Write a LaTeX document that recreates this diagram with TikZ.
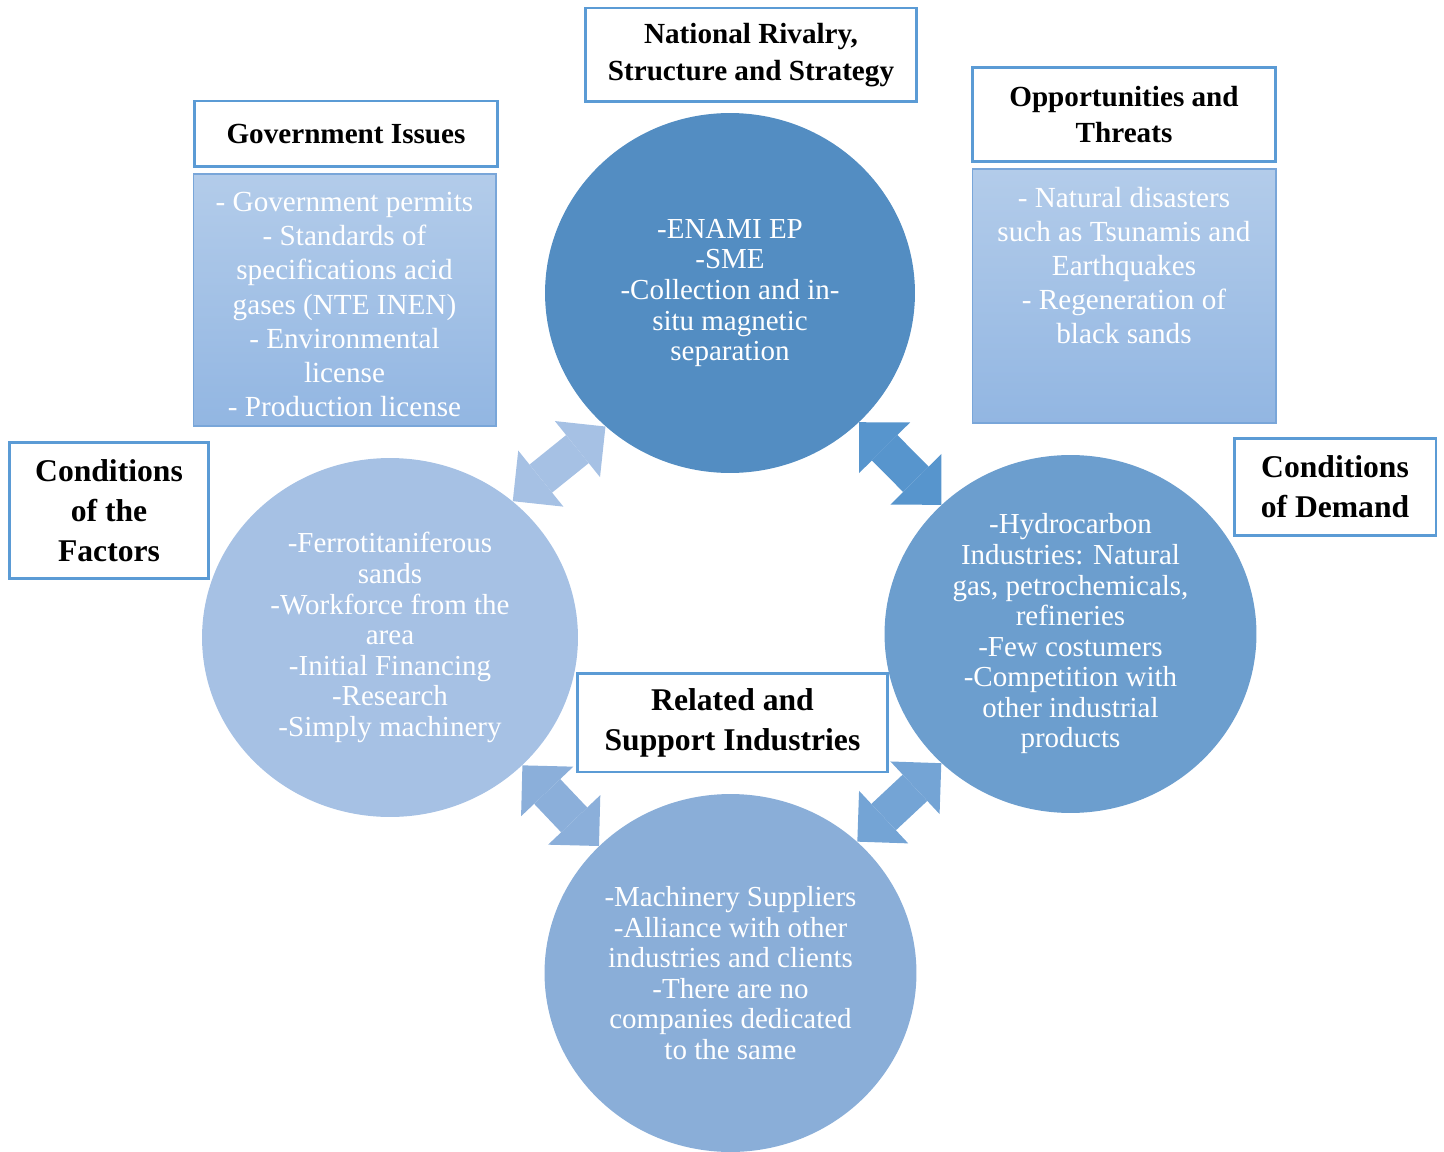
\documentclass[tikz,border=0pt]{standalone}
\usepackage{fontspec}
\setmainfont{Liberation Serif}
\usetikzlibrary{arrows.meta,shapes.geometric}
\definecolor{rimblue}{HTML}{5B9BD5}
\definecolor{listrim}{HTML}{79A6D9}
\definecolor{listtop}{HTML}{B3CCEA}
\definecolor{listbot}{HTML}{92B6E2}
\definecolor{rivalblue}{HTML}{538DC2}
\definecolor{demandblue}{HTML}{6C9ECE}
\definecolor{supportblue}{HTML}{8AAED8}
\definecolor{factorblue}{HTML}{A6C1E4}
\definecolor{linkA}{HTML}{A6C1E4}
\definecolor{linkB}{HTML}{5795CD}
\definecolor{linkC}{HTML}{8BAFDA}
\definecolor{linkD}{HTML}{74A4D5}
\def\links{left.48/top.227/linkA,top.315/right.135/linkB,left.316/bottom.136/linkC,right.225/bottom.46/linkD}

\begin{document}
\begin{tikzpicture}[x=0.02cm,y=-0.02cm,
    circ/.style={ellipse,inner sep=0pt,text=white,align=center,
                 minimum width=7.44cm,minimum height=7.16cm,
                 font=\fontsize{16.5}{17.4}\selectfont},
    headbox/.style={draw=rimblue,line width=1.7pt,fill=white,align=center,
                    inner sep=0pt,font=\bfseries\fontsize{16.6}{21}\selectfont},
    bighead/.style={headbox,font=\bfseries\fontsize{18}{22.8}\selectfont},
    listbox/.style={draw=listrim,line width=0.6pt,top color=listtop,
                    bottom color=listbot,inner sep=0pt},
    listtext/.style={text=white,align=center,inner sep=0pt,
                     font=\fontsize{16.6}{19.4}\selectfont}]
  \useasboundingbox (0,0) rectangle (1444,1152);

  % the four circles of the diamond
  \node[circ,fill=rivalblue,minimum width=7.4cm,minimum height=7.2cm] (top) at (730,293)
     {-ENAMI EP\\-SME\\-Collection and in-\\situ magnetic\\separation};
  \node[circ,fill=demandblue] (right) at (1070.5,634)
     {-Hydrocarbon\\Industries: Natural\\gas, petrochemicals,\\refineries\\-Few costumers\\-Competition with\\other industrial\\products};
  \node[circ,fill=supportblue] (bottom) at (730.5,973)
     {-Machinery Suppliers\\-Alliance with other\\industries and clients\\-There are no\\companies dedicated\\to the same};
  \node[circ,fill=factorblue,minimum width=7.52cm,minimum height=7.18cm] (left) at (390,637.5)
     {-Ferrotitaniferous\\sands\\-Workforce from the\\area\\-Initial Financing\\-Research\\-Simply machinery};

  % double block arrows between the circles
  \foreach \from/\to/\col in \links {%
    \draw[line width=0.72cm,draw=\col,fill=\col,
          {Triangle[length=0.72cm,width=1.44cm,line width=0pt]}-{Triangle[length=0.72cm,width=1.44cm,line width=0pt]}]
      (\from) -- (\to);
  }

  % title boxes
  \node[headbox,minimum width=6.64cm,minimum height=1.88cm] (rival) at (751,55)
     {National Rivalry,\\Structure and Strategy};
  \node[headbox,minimum width=6.08cm,minimum height=1.32cm] (govhead) at (346,134)
     {Government Issues};
  \node[headbox,minimum width=6.08cm,minimum height=1.9cm] (opphead) at (1124,114.5)
     {Opportunities and\\Threats};
  \node[bighead,minimum width=4cm,minimum height=2.74cm] (factors) at (109,510.5)
     {Conditions\\of the\\Factors};
  \node[bighead,minimum width=4.04cm,minimum height=1.96cm] (demand) at (1335,487)
     {Conditions\\of Demand};
  \node[bighead,minimum width=6.22cm,minimum height=1.98cm] (support) at (732.5,722.5)
     {Related and\\Support Industries};

  % list boxes under the titles
  \node[listbox,minimum width=6.06cm,minimum height=5.04cm] (govlist) at (344.5,300) {};
  \node[listtext,yshift=-0.09cm] at (govlist.center)
     {- Government permits\\- Standards of\\specifications acid\\gases (NTE INEN)\\- Environmental\\license\\- Production license};
  \node[listbox,minimum width=6.08cm,minimum height=5.08cm] (opplist) at (1124,296) {};
  \node[listtext,anchor=north,yshift=-0.36cm] at (opplist.north)
     {- Natural disasters\\such as Tsunamis and\\Earthquakes\\- Regeneration of\\black sands};
\end{tikzpicture}
\end{document}
